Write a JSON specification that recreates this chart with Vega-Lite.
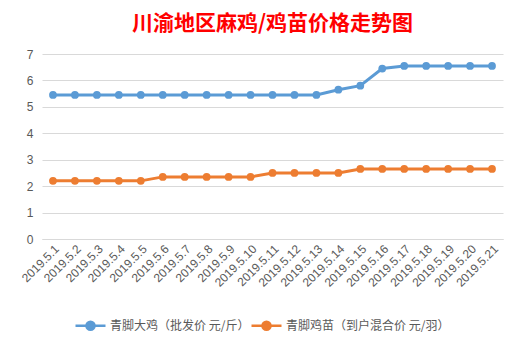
{
  "$schema": "https://vega.github.io/schema/vega-lite/v6.json",
  "width": 461,
  "height": 185,
  "autosize": {"type": "none"},
  "padding": {"left": 42, "top": 54, "right": 18, "bottom": 100},
  "background": "white",
  "title": {
    "text": "川渝地区麻鸡/鸡苗价格走势图",
    "color": "#ff0000",
    "font": "Noto Sans CJK SC",
    "fontSize": 21,
    "fontWeight": "bold",
    "anchor": "middle",
    "offset": 14
  },
  "config": {
    "view": {"stroke": null},
    "font": "Noto Sans CJK SC"
  },
  "data": {
    "values": [
      {"date": "2019.5.1", "series": "青脚大鸡（批发价 元/斤）", "price": 5.45},
      {"date": "2019.5.2", "series": "青脚大鸡（批发价 元/斤）", "price": 5.45},
      {"date": "2019.5.3", "series": "青脚大鸡（批发价 元/斤）", "price": 5.45},
      {"date": "2019.5.4", "series": "青脚大鸡（批发价 元/斤）", "price": 5.45},
      {"date": "2019.5.5", "series": "青脚大鸡（批发价 元/斤）", "price": 5.45},
      {"date": "2019.5.6", "series": "青脚大鸡（批发价 元/斤）", "price": 5.45},
      {"date": "2019.5.7", "series": "青脚大鸡（批发价 元/斤）", "price": 5.45},
      {"date": "2019.5.8", "series": "青脚大鸡（批发价 元/斤）", "price": 5.45},
      {"date": "2019.5.9", "series": "青脚大鸡（批发价 元/斤）", "price": 5.45},
      {"date": "2019.5.10", "series": "青脚大鸡（批发价 元/斤）", "price": 5.45},
      {"date": "2019.5.11", "series": "青脚大鸡（批发价 元/斤）", "price": 5.45},
      {"date": "2019.5.12", "series": "青脚大鸡（批发价 元/斤）", "price": 5.45},
      {"date": "2019.5.13", "series": "青脚大鸡（批发价 元/斤）", "price": 5.45},
      {"date": "2019.5.14", "series": "青脚大鸡（批发价 元/斤）", "price": 5.65},
      {"date": "2019.5.15", "series": "青脚大鸡（批发价 元/斤）", "price": 5.8},
      {"date": "2019.5.16", "series": "青脚大鸡（批发价 元/斤）", "price": 6.45},
      {"date": "2019.5.17", "series": "青脚大鸡（批发价 元/斤）", "price": 6.55},
      {"date": "2019.5.18", "series": "青脚大鸡（批发价 元/斤）", "price": 6.55},
      {"date": "2019.5.19", "series": "青脚大鸡（批发价 元/斤）", "price": 6.55},
      {"date": "2019.5.20", "series": "青脚大鸡（批发价 元/斤）", "price": 6.55},
      {"date": "2019.5.21", "series": "青脚大鸡（批发价 元/斤）", "price": 6.55},
      {"date": "2019.5.1", "series": "青脚鸡苗（到户混合价 元/羽）", "price": 2.2},
      {"date": "2019.5.2", "series": "青脚鸡苗（到户混合价 元/羽）", "price": 2.2},
      {"date": "2019.5.3", "series": "青脚鸡苗（到户混合价 元/羽）", "price": 2.2},
      {"date": "2019.5.4", "series": "青脚鸡苗（到户混合价 元/羽）", "price": 2.2},
      {"date": "2019.5.5", "series": "青脚鸡苗（到户混合价 元/羽）", "price": 2.2},
      {"date": "2019.5.6", "series": "青脚鸡苗（到户混合价 元/羽）", "price": 2.35},
      {"date": "2019.5.7", "series": "青脚鸡苗（到户混合价 元/羽）", "price": 2.35},
      {"date": "2019.5.8", "series": "青脚鸡苗（到户混合价 元/羽）", "price": 2.35},
      {"date": "2019.5.9", "series": "青脚鸡苗（到户混合价 元/羽）", "price": 2.35},
      {"date": "2019.5.10", "series": "青脚鸡苗（到户混合价 元/羽）", "price": 2.35},
      {"date": "2019.5.11", "series": "青脚鸡苗（到户混合价 元/羽）", "price": 2.5},
      {"date": "2019.5.12", "series": "青脚鸡苗（到户混合价 元/羽）", "price": 2.5},
      {"date": "2019.5.13", "series": "青脚鸡苗（到户混合价 元/羽）", "price": 2.5},
      {"date": "2019.5.14", "series": "青脚鸡苗（到户混合价 元/羽）", "price": 2.5},
      {"date": "2019.5.15", "series": "青脚鸡苗（到户混合价 元/羽）", "price": 2.65},
      {"date": "2019.5.16", "series": "青脚鸡苗（到户混合价 元/羽）", "price": 2.65},
      {"date": "2019.5.17", "series": "青脚鸡苗（到户混合价 元/羽）", "price": 2.65},
      {"date": "2019.5.18", "series": "青脚鸡苗（到户混合价 元/羽）", "price": 2.65},
      {"date": "2019.5.19", "series": "青脚鸡苗（到户混合价 元/羽）", "price": 2.65},
      {"date": "2019.5.20", "series": "青脚鸡苗（到户混合价 元/羽）", "price": 2.65},
      {"date": "2019.5.21", "series": "青脚鸡苗（到户混合价 元/羽）", "price": 2.65}
    ]
  },
  "encoding": {
    "x": {
      "field": "date",
      "type": "ordinal",
      "sort": null,
      "scale": {"type": "point", "padding": 0.5},
      "axis": {
        "title": null,
        "labelAngle": -45,
        "labelFontSize": 12,
        "labelColor": "#595959",
        "labelFont": "Liberation Sans",
        "ticks": false,
        "domainColor": "#d9d9d9",
        "grid": false,
        "labelPadding": 4
      }
    },
    "y": {
      "field": "price",
      "type": "quantitative",
      "scale": {"domain": [0, 7], "nice": false},
      "axis": {
        "title": null,
        "values": [0, 1, 2, 3, 4, 5, 6, 7],
        "labelFontSize": 12,
        "labelColor": "#595959",
        "labelFont": "Liberation Sans",
        "ticks": false,
        "domain": false,
        "gridColor": "#d9d9d9",
        "labelPadding": 9
      }
    },
    "color": {
      "field": "series",
      "type": "nominal",
      "sort": null,
      "scale": {
        "domain": ["青脚大鸡（批发价 元/斤）", "青脚鸡苗（到户混合价 元/羽）"],
        "range": ["#5b9bd5", "#ed7d31"]
      },
      "legend": {
        "title": null,
        "orient": "none",
        "direction": "horizontal",
        "legendX": 32,
        "legendY": 255,
        "symbolType": "M-1,0L1,0M-0.27,0A0.27,0.27 0 1,1 0.27,0A0.27,0.27 0 1,1 -0.27,0Z",
        "symbolSize": 900,
        "symbolStrokeWidth": 2.5,
        "labelFontSize": 12,
        "labelColor": "#595959",
        "labelLimit": 400,
        "columnPadding": -12,
        "labelOffset": 3,
        "encode": {
          "symbols": {
            "update": {
              "fill": {"scale": "color", "field": "value"},
              "stroke": {"scale": "color", "field": "value"},
              "fillOpacity": {"value": 1},
              "opacity": {"value": 1}
            }
          }
        }
      }
    }
  },
  "layer": [
    {"mark": {"type": "line", "strokeWidth": 3}},
    {"mark": {"type": "point", "filled": true, "size": 60, "opacity": 1}}
  ]
}
